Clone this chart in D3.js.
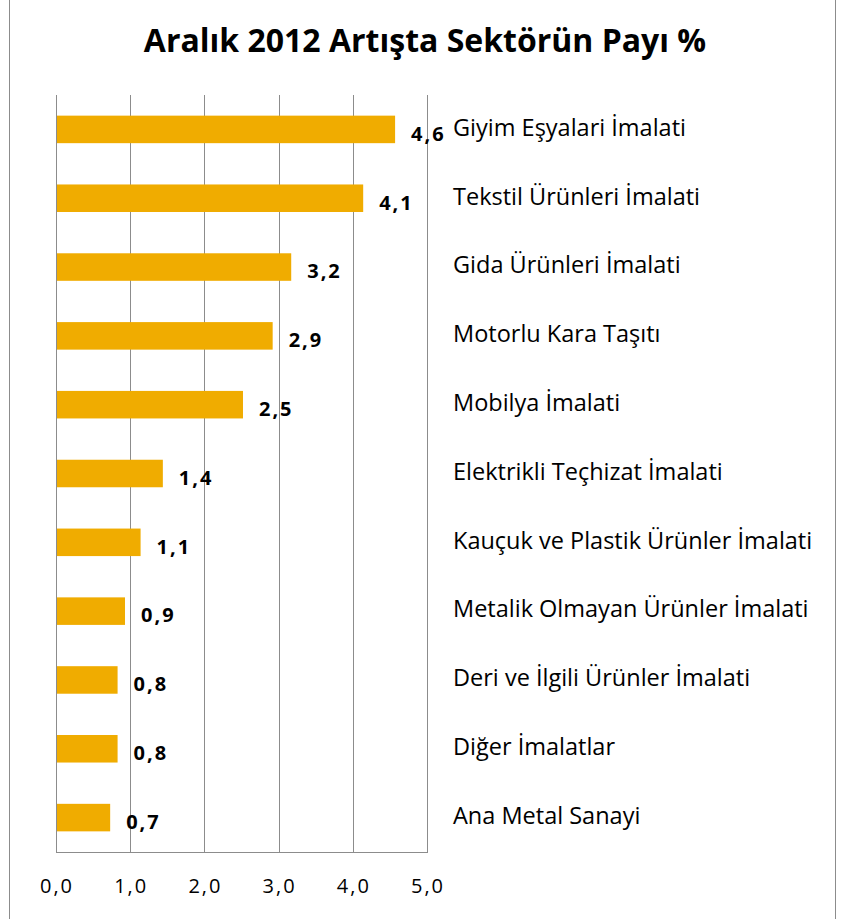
<!DOCTYPE html>
<html><head><meta charset="utf-8">
<script src="https://cdn.jsdelivr.net/npm/d3@7"></script>
<style>body{margin:0;background:#fff}svg{display:block}</style>
</head><body>
<svg id="c" width="847" height="919"></svg>
<script>
const title = "Aralık 2012 Artışta Sektörün Payı %";
const categories = ["Giyim Eşyalari İmalati","Tekstil Ürünleri İmalati","Gida Ürünleri İmalati","Motorlu Kara Taşıtı","Mobilya İmalati","Elektrikli Teçhizat İmalati","Kauçuk ve Plastik Ürünler İmalati","Metalik Olmayan Ürünler İmalati","Deri ve İlgili Ürünler İmalati","Diğer İmalatlar","Ana Metal Sanayi"];
const values = [4.57,4.14,3.17,2.92,2.52,1.44,1.14,0.93,0.83,0.83,0.73];
const ticks = [0,1,2,3,4,5];

const svg = d3.select("#c");
const font = "'Open Sans', Lato, sans-serif";
const x = d3.scaleLinear().domain([0,5]).range([56,427]);
const y = d3.scaleBand().domain(categories).range([95,852]).paddingInner(0.6).paddingOuter(0.3);
const fmt = v => d3.format(".1f")(v).replace(".", ",");

// outer frame lines
svg.append("line").attr("x1",9.5).attr("x2",9.5).attr("y1",0).attr("y2",919).attr("stroke","#8c8c8c");
svg.append("line").attr("x1",835.5).attr("x2",835.5).attr("y1",0).attr("y2",919).attr("stroke","#8c8c8c");

svg.append("text").attr("x",425).attr("y",43).attr("text-anchor","middle").attr("dominant-baseline","middle")
  .attr("font-family",font).attr("font-weight","bold").attr("font-size",32).attr("fill","#000").text(title);

// gridlines
svg.append("g").selectAll("line").data(ticks).join("line")
  .attr("x1",d=>Math.round(x(d))+0.5).attr("x2",d=>Math.round(x(d))+0.5)
  .attr("y1",95).attr("y2",852).attr("stroke","#8c8c8c");
svg.append("line").attr("x1",x(0)).attr("x2",x(5)+1).attr("y1",852.5).attr("y2",852.5).attr("stroke","#8c8c8c");

// x axis labels
svg.append("g").selectAll("text").data(ticks).join("text")
  .attr("x",d=>x(d)+1).attr("y",888).attr("dominant-baseline","middle").attr("text-anchor","middle")
  .attr("font-family",font).attr("font-size",20).attr("letter-spacing",2).attr("fill","#000").text(d=>fmt(d));

// bars
svg.append("g").selectAll("rect").data(values).join("rect")
  .attr("x",x(0)+1).attr("y",(d,i)=>y(categories[i]))
  .attr("width",d=>x(d)-x(0)-1).attr("height",y.bandwidth()).attr("fill","#F0AC00");

// value labels
svg.append("g").selectAll("text").data(values).join("text")
  .attr("x",d=>x(d)+16).attr("y",(d,i)=>y(categories[i])+y.bandwidth()/2+6)
  .attr("dominant-baseline","middle").attr("font-family",font).attr("font-weight","bold")
  .attr("font-size",20).attr("letter-spacing",2).attr("fill","#000").text(d=>fmt(d));

// category labels
svg.append("g").selectAll("text").data(categories).join("text")
  .attr("x",453).attr("y",d=>y(d)+y.bandwidth()/2)
  .attr("dominant-baseline","middle").attr("font-family",font)
  .attr("font-size",23.5).attr("fill","#000").text(d=>d);
</script>
</body></html>
